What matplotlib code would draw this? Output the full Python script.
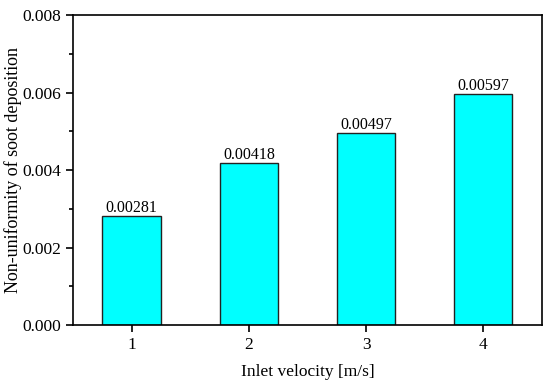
import matplotlib.pyplot as plt
import numpy as np

# data
velocity = [1, 2, 3, 4]
nonuniformity = [0.00281, 0.00418, 0.00497, 0.00597]
labels = ['0.00281', '0.00418', '0.00497', '0.00597']

plt.rcParams['font.family'] = ['Liberation Serif', 'DejaVu Serif']

fig = plt.figure(figsize=(5.5, 3.88), dpi=100)
ax = fig.add_axes([0.133, 0.162, 0.852, 0.799])

bars = ax.bar(velocity, nonuniformity, width=0.5, color='#00ffff',
              edgecolor='#222222', linewidth=1.0)

for b, txt in zip(bars, labels):
    ax.text(b.get_x() + b.get_width() / 2, b.get_height(), txt,
            ha='center', va='bottom', fontsize=11.5)

ax.set_xlim(0.5, 4.5)
ax.set_ylim(0, 0.008)
ax.set_xticks(velocity)
ax.set_yticks(np.arange(0, 0.0081, 0.002))
ax.set_yticks(np.arange(0.001, 0.008, 0.002), minor=True)
ax.set_yticklabels(['0.000', '0.002', '0.004', '0.006', '0.008'])

ax.tick_params(axis='both', which='major', direction='out', length=5,
               width=1.2, labelsize=12.5)
ax.tick_params(axis='y', which='minor', direction='out', length=3, width=1.2)
for s in ax.spines.values():
    s.set_linewidth(1.2)

ax.set_xlabel('Inlet velocity [m/s]', fontsize=12.5, labelpad=8)
ax.set_ylabel('Non-uniformity of soot deposition', fontsize=13)
ax.yaxis.label.set_va('center')
ax.yaxis.set_label_coords(-0.128, 0.5)

fig.savefig('out.png', dpi=100)
